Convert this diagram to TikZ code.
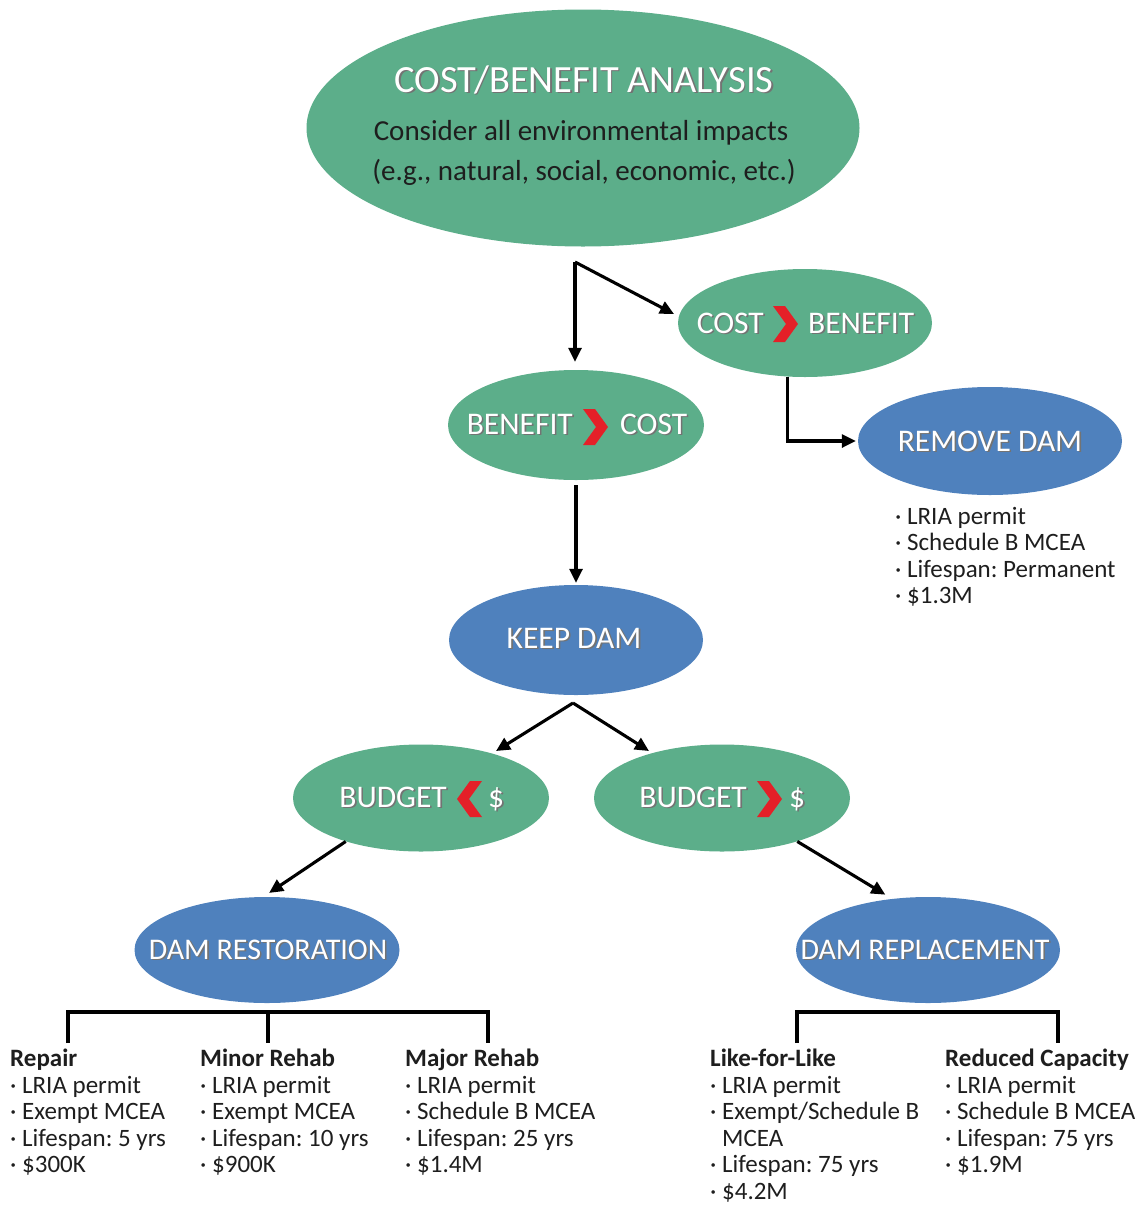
\documentclass[tikz,border=0pt]{standalone}
\usepackage{fontspec}
\setmainfont{Carlito}
\frenchspacing
\usetikzlibrary{shapes.geometric,arrows.meta}
\definecolor{grn}{RGB}{92,174,138}
\definecolor{blu}{RGB}{79,129,189}
\definecolor{chev}{RGB}{228,32,40}
\definecolor{ink}{RGB}{30,30,30}
% white caption with a soft dark drop shadow
\newcommand\shd[1]{\rlap{\kern1.6pt\raisebox{-1.6pt}{\textcolor{black!55}{#1}}}\textcolor{white}{#1}}
\begin{document}
\begin{tikzpicture}[x=1pt,y=-1pt,
  gell/.style={ellipse,fill=grn,draw=none,inner sep=0pt},
  bell/.style={ellipse,fill=blu,draw=none,inner sep=0pt},
  ttl/.style={font=\fontsize{31.5}{36}\selectfont,inner sep=0pt},
  dttl/.style={font=\fontsize{30}{36}\selectfont,inner sep=0pt},
  big/.style={font=\fontsize{38.5}{44}\selectfont,inner sep=0pt,anchor=base},
  sub/.style={font=\fontsize{29}{34}\selectfont,text=ink,inner sep=0pt,anchor=base},
  item/.style={anchor=north west,align=left,text=ink,inner sep=0pt,
    font=\fontsize{25}{26.5}\selectfont},
  arr/.style={-{Triangle[length=14pt,width=13pt]},line width=3.1pt},
  brk/.style={line width=3.1pt},
  chevr/.pic={\fill[chev] (-25,-18) -- (-13,-18) -- (0,0) -- (-13,18) -- (-25,18) -- (-12,0) -- cycle;},
  chevl/.pic={\fill[chev] (25,-18) -- (13,-18) -- (0,0) -- (13,18) -- (25,18) -- (12,0) -- cycle;}]
\useasboundingbox (0,0) rectangle (1143,1205);

% ---- ellipses
\node[gell,minimum width=553,minimum height=237] (cba) at (583,128) {};
\node[gell,minimum width=254,minimum height=108] (cb) at (805,323) {};
\node[gell,minimum width=256,minimum height=110] (bc) at (576,425) {};
\node[bell,minimum width=264,minimum height=108] (rd) at (990,441) {};
\node[bell,minimum width=254,minimum height=110] (kd) at (576,640) {};
\node[gell,minimum width=256,minimum height=107] (bl) at (421,798) {};
\node[gell,minimum width=256,minimum height=107] (br) at (722,798) {};
\node[bell,minimum width=265,minimum height=106] (drs) at (267,950) {};
\node[bell,minimum width=264,minimum height=106] (drp) at (928,950) {};

% ---- captions
\node[big] (cbat) at (584,92) {\shd{COST/BENEFIT ANALYSIS}};
\node[sub] (cbas1) at (581,140) {Consider all environmental impacts};
\node[sub] (cbas2) at (584,180) {(e.g., natural, social, economic, etc.)};

\node[ttl,anchor=base east] (cb1) at (764,333) {\shd{COST}};
\node[ttl,anchor=base west] (cb2) at (808,333) {\shd{BENEFIT}};
\pic at (798,324) {chevr};

\node[ttl,anchor=base east] (bc1) at (573,434) {\shd{BENEFIT}};
\node[ttl,anchor=base west] (bc2) at (620,434) {\shd{COST}};
\pic at (608,427) {chevr};

\node[ttl,anchor=base] (rdt) at (990,451) {\shd{REMOVE DAM}};
\node[ttl,anchor=base] (kdt) at (574,648) {\shd{KEEP DAM}};

\node[ttl,anchor=base east] (bl1) at (447,807) {\shd{BUDGET}};
\node[ttl,anchor=base west] (bl2) at (488,807) {\shd{\$}};
\pic at (457,799) {chevl};

\node[ttl,anchor=base east] (br1) at (747,807) {\shd{BUDGET}};
\node[ttl,anchor=base west] (br2) at (789,807) {\shd{\$}};
\pic at (782,799) {chevr};

\node[dttl,anchor=base] (drst) at (268,959) {\shd{DAM RESTORATION}};
\node[dttl,anchor=base] (drpt) at (925,959) {\shd{DAM REPLACEMENT}};

% ---- connectors
\coordinate (split) at (575,262);
\coordinate (cbin) at (674,314);
\draw[arr,shorten >=8pt] (split) -- (split |- bc.north);
\draw[arr] (split) -- (cbin);
\draw[arr,shorten <=5pt,shorten >=2pt] (bc.south) -- (kd.north);
\draw[arr,shorten >=2pt] (cb.252) |- (rd.west);
\coordinate (ks) at (573,703);
\coordinate (blin) at (496,751);
\coordinate (brin) at (649,751);
\draw[arr] (ks) -- (blin);
\draw[arr] (ks) -- (brin);
\draw[arr,shorten >=7pt] (bl.210) -- (drs.94);
\draw[arr,shorten >=8pt] (br.-30) -- (drp.125);

% ---- brackets under the two options
\coordinate (a1) at (68,1043);
\coordinate (a2) at (268,1043);
\coordinate (a3) at (488,1043);
\coordinate (ha) at (0,1012);
\draw[brk] (a1) -- (a1 |- ha) -- (a3 |- ha) -- (a3);
\draw[brk] (a2 |- ha) -- (a2);
\coordinate (c1) at (797,1043);
\coordinate (c2) at (1058,1043);
\draw[brk] (c1) -- (c1 |- ha) -- (c2 |- ha) -- (c2);

% ---- option details
\node[item] (rdl) at (895,507) {· LRIA permit\\· Schedule B MCEA\\· Lifespan: Permanent\\· \$1.3M};
\node[item] (rep) at (10,1049) {\textbf{Repair}\\· LRIA permit\\· Exempt MCEA\\· Lifespan: 5 yrs\\· \$300K};
\node[item] (mir) at (200,1049) {\textbf{Minor Rehab}\\· LRIA permit\\· Exempt MCEA\\· Lifespan: 10 yrs\\· \$900K};
\node[item] (mar) at (405,1049) {\textbf{Major Rehab}\\· LRIA permit\\· Schedule B MCEA\\· Lifespan: 25 yrs\\· \$1.4M};
\node[item] (lfl) at (710,1049) {\textbf{Like-for-Like}\\· LRIA permit\\· Exempt/Schedule B\\\phantom{· }MCEA\\· Lifespan: 75 yrs\\· \$4.2M};
\node[item] (rc) at (945,1049) {\textbf{Reduced Capacity}\\· LRIA permit\\· Schedule B MCEA\\· Lifespan: 75 yrs\\· \$1.9M};
\end{tikzpicture}
\end{document}
